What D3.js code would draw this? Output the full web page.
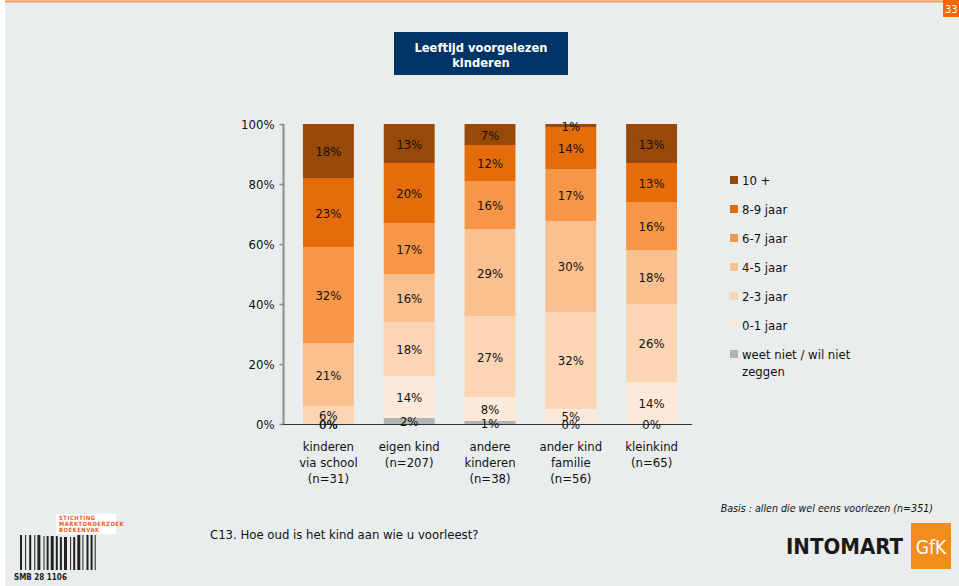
<!DOCTYPE html>
<html><head><meta charset="utf-8">
<script src="https://cdn.jsdelivr.net/npm/d3@7"></script>
<style>
html,body{margin:0;padding:0;background:#fff;}
svg{display:block;}
text{font-family:"DejaVu Sans Condensed","DejaVu Sans",sans-serif;}
</style></head>
<body>
<svg id="c" width="959" height="586"></svg>
<script>
// ---- data ----
const categories = ["kinderen\nvia school\n(n=31)", "eigen kind\n(n=207)", "andere\nkinderen\n(n=38)", "ander kind\nfamilie\n(n=56)", "kleinkind\n(n=65)"];
const seriesNames = ["weet niet / wil niet zeggen", "0-1 jaar", "2-3 jaar", "4-5 jaar", "6-7 jaar", "8-9 jaar", "10 +"];
const weetNiet = [0, 2, 1, 0, 0];
const jaar01   = [0, 14, 8, 5, 14];
const jaar23   = [6, 18, 27, 32, 26];
const jaar45   = [21, 16, 29, 30, 18];
const jaar67   = [32, 17, 16, 17, 16];
const jaar89   = [23, 20, 12, 14, 13];
const jaar10   = [18, 13, 7, 1, 13];
const yTicks   = [0, 0.2, 0.4, 0.6, 0.8, 1.0];
const colors   = ["#b3b3b3", "#fde9d9", "#fcd5b5", "#fac090", "#f79646", "#e46c0a", "#984807"];
const legendLabels = ["10 +", "8-9 jaar", "6-7 jaar", "4-5 jaar", "2-3 jaar", "0-1 jaar", "weet niet / wil niet\nzeggen"];

const seriesVals = [weetNiet, jaar01, jaar23, jaar45, jaar67, jaar89, jaar10];
const rows = categories.map((c, i) => {
  const r = {cat: c};
  seriesNames.forEach((s, j) => r[s] = seriesVals[j][i]);
  return r;
});

const svg = d3.select("#c");
// background
svg.append("rect").attr("x", 5).attr("y", 0).attr("width", 954).attr("height", 586).attr("fill", "#e9edee");
svg.append("rect").attr("x", 5).attr("y", 0.5).attr("width", 954).attr("height", 2).attr("fill", "#f79a5c");
svg.append("rect").attr("x", 943).attr("y", 0).attr("width", 16).attr("height", 17).attr("fill", "#ff6600");
svg.append("text").attr("x", 945).attr("y", 12.5).attr("fill", "#fff").attr("font-size", 11).text("33");

// title box
svg.append("rect").attr("x", 394).attr("y", 32).attr("width", 174).attr("height", 43).attr("fill", "#003366");
const tt = svg.append("text").attr("text-anchor", "middle").attr("fill", "#fff")
  .attr("font-size", 12.8).attr("font-weight", "bold");
tt.append("tspan").attr("x", 481).attr("y", 52).text("Leeftijd voorgelezen");
tt.append("tspan").attr("x", 481).attr("y", 67).text("kinderen");

// scales
const x = d3.scaleBand().domain(categories).range([288, 692]).paddingInner(0.37).paddingOuter(0.185);
const y = d3.scaleLinear().domain([0, 1]).range([424, 124]);

// stack normalised to 100%
const stack = d3.stack().keys(seriesNames).offset(d3.stackOffsetExpand);
const series = stack(rows);

const g = svg.append("g");
series.forEach((s, j) => {
  g.selectAll(null).data(s).enter().append("rect")
    .attr("x", d => x(d.data.cat))
    .attr("width", x.bandwidth())
    .attr("y", d => y(d[1]))
    .attr("height", d => y(d[0]) - y(d[1]))
    .attr("fill", colors[j]);
});

// y axis
const yAxis = d3.axisLeft(y).tickValues(yTicks).tickFormat(d3.format(".0%")).tickSize(4).tickPadding(8);
const ya = svg.append("g").attr("transform", "translate(287.5,0)").call(yAxis);
ya.select(".domain").attr("stroke", "#8c8c8c").attr("stroke-width", 2).attr("d", "M-4,124V424");
ya.selectAll(".tick line").attr("stroke", "#8c8c8c").attr("stroke-width", 1.5);
ya.selectAll(".tick text").attr("font-size", 13).attr("fill", "#111")
  .attr("font-family", "'DejaVu Sans Condensed','DejaVu Sans',sans-serif");
ya.selectAll(".tick line").attr("x1", -4).attr("x2", -8);
ya.selectAll(".tick text").attr("x", -13);

// x axis line
const xa = d3.axisBottom(x).tickSize(0).tickFormat("");
const xg = svg.append("g").attr("transform", "translate(0,424.5)").call(xa);
xg.select(".domain").attr("stroke", "#333").attr("stroke-width", 1).attr("d", "M283,0H692");

// category labels
categories.forEach(c => {
  const t = svg.append("text").attr("text-anchor", "middle").attr("font-size", 13).attr("fill", "#111");
  c.split("\n").forEach((line, k) => {
    t.append("tspan").attr("x", x(c) + x.bandwidth() / 2).attr("y", 451 + k * 16).text(line);
  });
});

// value labels
series.forEach((s, j) => {
  s.forEach((d, i) => {
    const v = seriesVals[j][i];
    svg.append("text").attr("text-anchor", "middle").attr("font-size", 13).attr("fill", "#111")
      .attr("x", x(d.data.cat) + x.bandwidth() / 2)
      .attr("y", y((d[0] + d[1]) / 2) + 5)
      .text(v + "%");
  });
});

// legend
legendLabels.forEach((lab, k) => {
  const ly = 180 + k * 29;
  svg.append("rect").attr("x", 730).attr("y", ly - 4).attr("width", 8).attr("height", 8)
    .attr("fill", colors[colors.length - 1 - k]);
  const t = svg.append("text").attr("font-size", 13).attr("fill", "#111");
  lab.split("\n").forEach((line, m) => {
    t.append("tspan").attr("x", 742).attr("y", ly + 5 + m * 17).text(line);
  });
});

// footer texts
svg.append("text").attr("x", 210).attr("y", 539).attr("font-size", 13).attr("fill", "#111")
  .text("C13. Hoe oud is het kind aan wie u voorleest?");
svg.append("text").attr("x", 933).attr("y", 512).attr("text-anchor", "end").attr("font-size", 10.6)
  .attr("font-style", "italic").attr("fill", "#111")
  .text("Basis : allen die wel eens voorlezen (n=351)");

// Intomart GfK logo
svg.append("text").attr("x", 903).attr("y", 554).attr("text-anchor", "end").attr("font-size", 22)
  .attr("font-weight", "bold").attr("fill", "#1a1a1a")
  .attr("font-family", "'Liberation Sans',Arial,sans-serif").text("INTOMART");
svg.append("rect").attr("x", 911).attr("y", 523).attr("width", 40).attr("height", 46).attr("fill", "#f28c1a");
svg.append("text").attr("x", 931).attr("y", 554).attr("text-anchor", "middle").attr("font-size", 19)
  .attr("fill", "#fff").attr("font-family", "'Liberation Sans',Arial,sans-serif").text("GfK");

// SMB logo
svg.append("rect").attr("x", 56).attr("y", 514).attr("width", 60).attr("height", 20).attr("fill", "#fff");
const smb = svg.append("text").attr("font-size", 5.8).attr("font-weight", "bold").attr("fill", "#f05a28")
  .attr("font-family", "'DejaVu Sans Mono',monospace").attr("letter-spacing", 0.55);
["STICHTING", "MARKTONDERZOEK", "BOEKENVAK"].forEach((l, k) => smb.append("tspan").attr("x", 59).attr("y", 520 + k * 6).text(l));
const barW = [2,2,1,2,2,2,1,1,3,2,1,1,2,1,3,1,2,1,2,1,3,2,1,1,2,1,3,1,1,2,2,1,2,1,1];
let bx = 20;
barW.forEach((w, k) => {
  if (k % 2 === 0) {
    const top = (bx > 42 && bx < 75) ? 536 + (bx > 58 ? 1 : 0) : 535;
    svg.append("rect").attr("x", bx).attr("y", top).attr("width", w).attr("height", 570 - top).attr("fill", "#222");
  }
  bx += w + 0.55;
});
svg.append("text").attr("x", 14).attr("y", 580).attr("font-size", 8).attr("font-weight", "bold")
  .attr("fill", "#222").attr("font-family", "'DejaVu Sans Mono',monospace").text("SMB 28   1106");
</script>
</body></html>
